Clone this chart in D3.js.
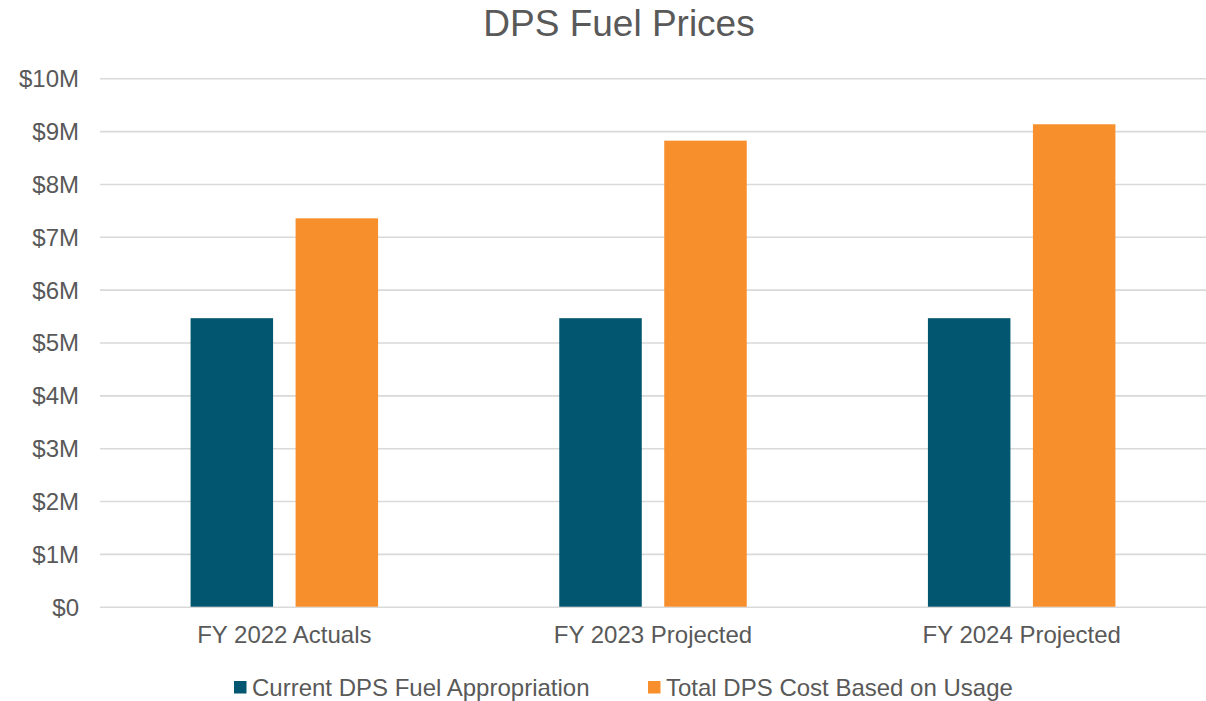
<!DOCTYPE html>
<html>
<head>
<meta charset="utf-8">
<script src="https://cdn.jsdelivr.net/npm/d3@7"></script>
<style>
  html, body { margin: 0; padding: 0; background: #ffffff; }
  svg { display: block; font-family: "Liberation Sans", Arial, sans-serif; }
</style>
</head>
<body>
<svg id="chart" width="1206" height="701"></svg>
<script>
// Fuel budget vs. projected usage cost, in dollars
const categories = ["FY 2022 Actuals", "FY 2023 Projected", "FY 2024 Projected"];
const seriesNames = ["Current DPS Fuel Appropriation", "Total DPS Cost Based on Usage"];
const appropriation = [5460000, 5460000, 5460000];
const usageCost = [7350000, 8820000, 9130000];
const yTicks = [0, 1e6, 2e6, 3e6, 4e6, 5e6, 6e6, 7e6, 8e6, 9e6, 10e6];
const yTickLabels = ["$0", "$1M", "$2M", "$3M", "$4M", "$5M", "$6M", "$7M", "$8M", "$9M", "$10M"];
const colors = ["#02566F", "#F78F2C"];

const svg = d3.select("#chart");
const margin = { left: 100, right: 0, top: 78.3, bottom: 94.3 };
const W = 1206, H = 701;
const plotW = W - margin.left - margin.right;
const plotH = H - margin.top - margin.bottom;

const x0 = d3.scaleBand().domain(categories).range([margin.left, margin.left + plotW]).paddingInner(0).paddingOuter(0);
const barW = 82.5, barGap = 22.5;
const y = d3.scaleLinear().domain([0, 10e6]).range([margin.top + plotH, margin.top]);

const textColor = "#595959";
const gridColor = "#D9D9D9";
const labelSize = "24px";

// Title
svg.append("text")
  .attr("x", 619).attr("y", 36)
  .attr("text-anchor", "middle")
  .attr("font-size", "37px")
  .attr("fill", textColor)
  .text("DPS Fuel Prices");

// Horizontal gridlines and y tick labels
const yAxis = d3.axisLeft(y)
  .tickValues(yTicks)
  .tickFormat((d, i) => yTickLabels[i])
  .tickSize(-plotW)
  .tickPadding(21);

const gy = svg.append("g")
  .attr("transform", `translate(${margin.left},0)`)
  .call(yAxis);
gy.select(".domain").remove();
gy.selectAll(".tick line").attr("stroke", gridColor).attr("stroke-width", 1.6);
gy.selectAll(".tick text")
  .attr("fill", textColor)
  .attr("font-size", labelSize)
  .attr("font-family", "Liberation Sans, Arial, sans-serif")
  .attr("dy", "0.35em");

// Bars
const series = [appropriation, usageCost];
const groupW = barW * 2 + barGap;
series.forEach((vals, s) => {
  svg.append("g").selectAll("rect")
    .data(vals)
    .join("rect")
    .attr("x", (d, i) => x0(categories[i]) + x0.bandwidth() / 2 - groupW / 2 + s * (barW + barGap))
    .attr("y", d => y(d))
    .attr("width", barW)
    .attr("height", d => y(0) - y(d))
    .attr("fill", colors[s]);
});

// Category axis (labels only)
const xAxis = d3.axisBottom(x0).tickSize(0).tickPadding(19);
const gx = svg.append("g")
  .attr("transform", `translate(0,${y(0)})`)
  .call(xAxis);
gx.select(".domain").remove();
gx.selectAll(".tick text")
  .attr("fill", textColor)
  .attr("font-size", labelSize)
  .attr("font-family", "Liberation Sans, Arial, sans-serif")
  .attr("dy", "0.71em");

// Legend
const legendItems = [
  { name: seriesNames[0], color: colors[0], x: 234 },
  { name: seriesNames[1], color: colors[1], x: 648 }
];
const legend = svg.append("g");
legendItems.forEach(item => {
  legend.append("rect")
    .attr("x", item.x).attr("y", 681)
    .attr("width", 12.5).attr("height", 12.5)
    .attr("fill", item.color);
  legend.append("text")
    .attr("x", item.x + 18).attr("y", 695.5)
    .attr("font-size", labelSize)
    .attr("fill", textColor)
    .text(item.name);
});
</script>
</body>
</html>
